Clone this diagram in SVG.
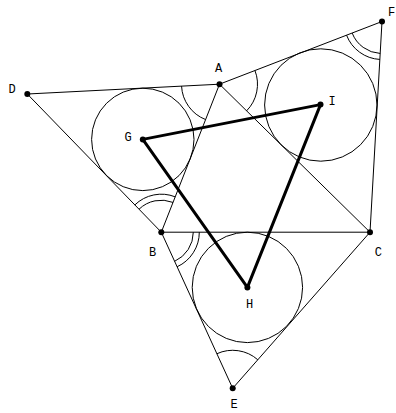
<svg xmlns="http://www.w3.org/2000/svg" width="396" height="413" viewBox="0 0 396 413">
<style>
.l{stroke:#000;stroke-width:1;fill:none}
.t{stroke:#000;stroke-width:3;fill:none;stroke-linecap:round}
.c{stroke:#000;stroke-width:1;fill:none}
.a{stroke:#000;stroke-width:1;fill:none}
.p{fill:#000}
text{font-family:"Liberation Mono",monospace;font-size:12px;fill:#000;text-anchor:middle}
</style>
<rect width="396" height="413" fill="#fff"/>
<g id="connectors">
<line class="l" x1="27.3" y1="94" x2="219.5" y2="84.2"/>
<line class="l" x1="27.3" y1="94" x2="161.3" y2="232.2"/>
<line class="l" x1="219.5" y1="84.2" x2="161.3" y2="232.2"/>
<line class="l" x1="219.5" y1="84.2" x2="382" y2="21.5"/>
<line class="l" x1="382" y1="21.5" x2="370" y2="232.2"/>
<line class="l" x1="219.5" y1="84.2" x2="370" y2="232.2"/>
<line class="l" x1="161.3" y1="232.2" x2="370" y2="232.2"/>
<line class="l" x1="161.3" y1="232.2" x2="232.7" y2="388.3"/>
<line class="l" x1="232.7" y1="388.3" x2="370" y2="232.2"/>
<line class="t" x1="142.8" y1="139.4" x2="320.5" y2="104.6"/>
<line class="t" x1="320.5" y1="104.6" x2="247.4" y2="287.4"/>
<line class="t" x1="247.4" y1="287.4" x2="142.8" y2="139.4"/>
</g>
<g id="circles">
<circle class="c" cx="142.8" cy="139.4" r="51.2"/>
<circle class="c" cx="320.8" cy="105" r="56.2"/>
<circle class="c" cx="247.4" cy="287.4" r="55.2"/>
</g>
<g id="angles">
<path class="a" d="M181.55,86.13 A38,38 0 0 0 205.59,119.57"/>
<path class="a" d="M254.95,70.52 A38,38 0 0 1 246.59,110.85"/>
<path class="a" d="M346.55,35.18 A38,38 0 0 0 379.84,59.44"/>
<path class="a" d="M352.15,33.02 A32,32 0 0 0 380.18,53.45"/>
<path class="a" d="M134.85,204.92 A38,38 0 0 1 175.21,196.83"/>
<path class="a" d="M139.02,209.23 A32,32 0 0 1 173.01,202.41"/>
<path class="a" d="M199.3,232.2 A38,38 0 0 1 177.11,266.76"/>
<path class="a" d="M193.3,232.2 A32,32 0 0 1 174.61,261.3"/>
<path class="a" d="M216.89,353.74 A38,38 0 0 1 257.8,359.77"/>
</g>
<g id="node-A"><circle class="p" cx="219.5" cy="84.2" r="3"/><text x="218.5" y="72">A</text></g>
<g id="node-B"><circle class="p" cx="161.3" cy="232.2" r="3"/><text x="152.5" y="256">B</text></g>
<g id="node-C"><circle class="p" cx="370" cy="232.2" r="3"/><text x="378.3" y="256">C</text></g>
<g id="node-D"><circle class="p" cx="27.3" cy="94" r="3"/><text x="12" y="93">D</text></g>
<g id="node-E"><circle class="p" cx="232.7" cy="388.3" r="3"/><text x="234" y="408">E</text></g>
<g id="node-F"><circle class="p" cx="382" cy="21.5" r="3"/><text x="391.5" y="16">F</text></g>
<g id="node-G"><circle class="p" cx="142.8" cy="139.4" r="3"/><text x="128" y="141">G</text></g>
<g id="node-H"><circle class="p" cx="247.4" cy="287.4" r="3"/><text x="249.5" y="308">H</text></g>
<g id="node-I"><circle class="p" cx="320.5" cy="104.6" r="3"/><text x="332" y="105">I</text></g>
</svg>
